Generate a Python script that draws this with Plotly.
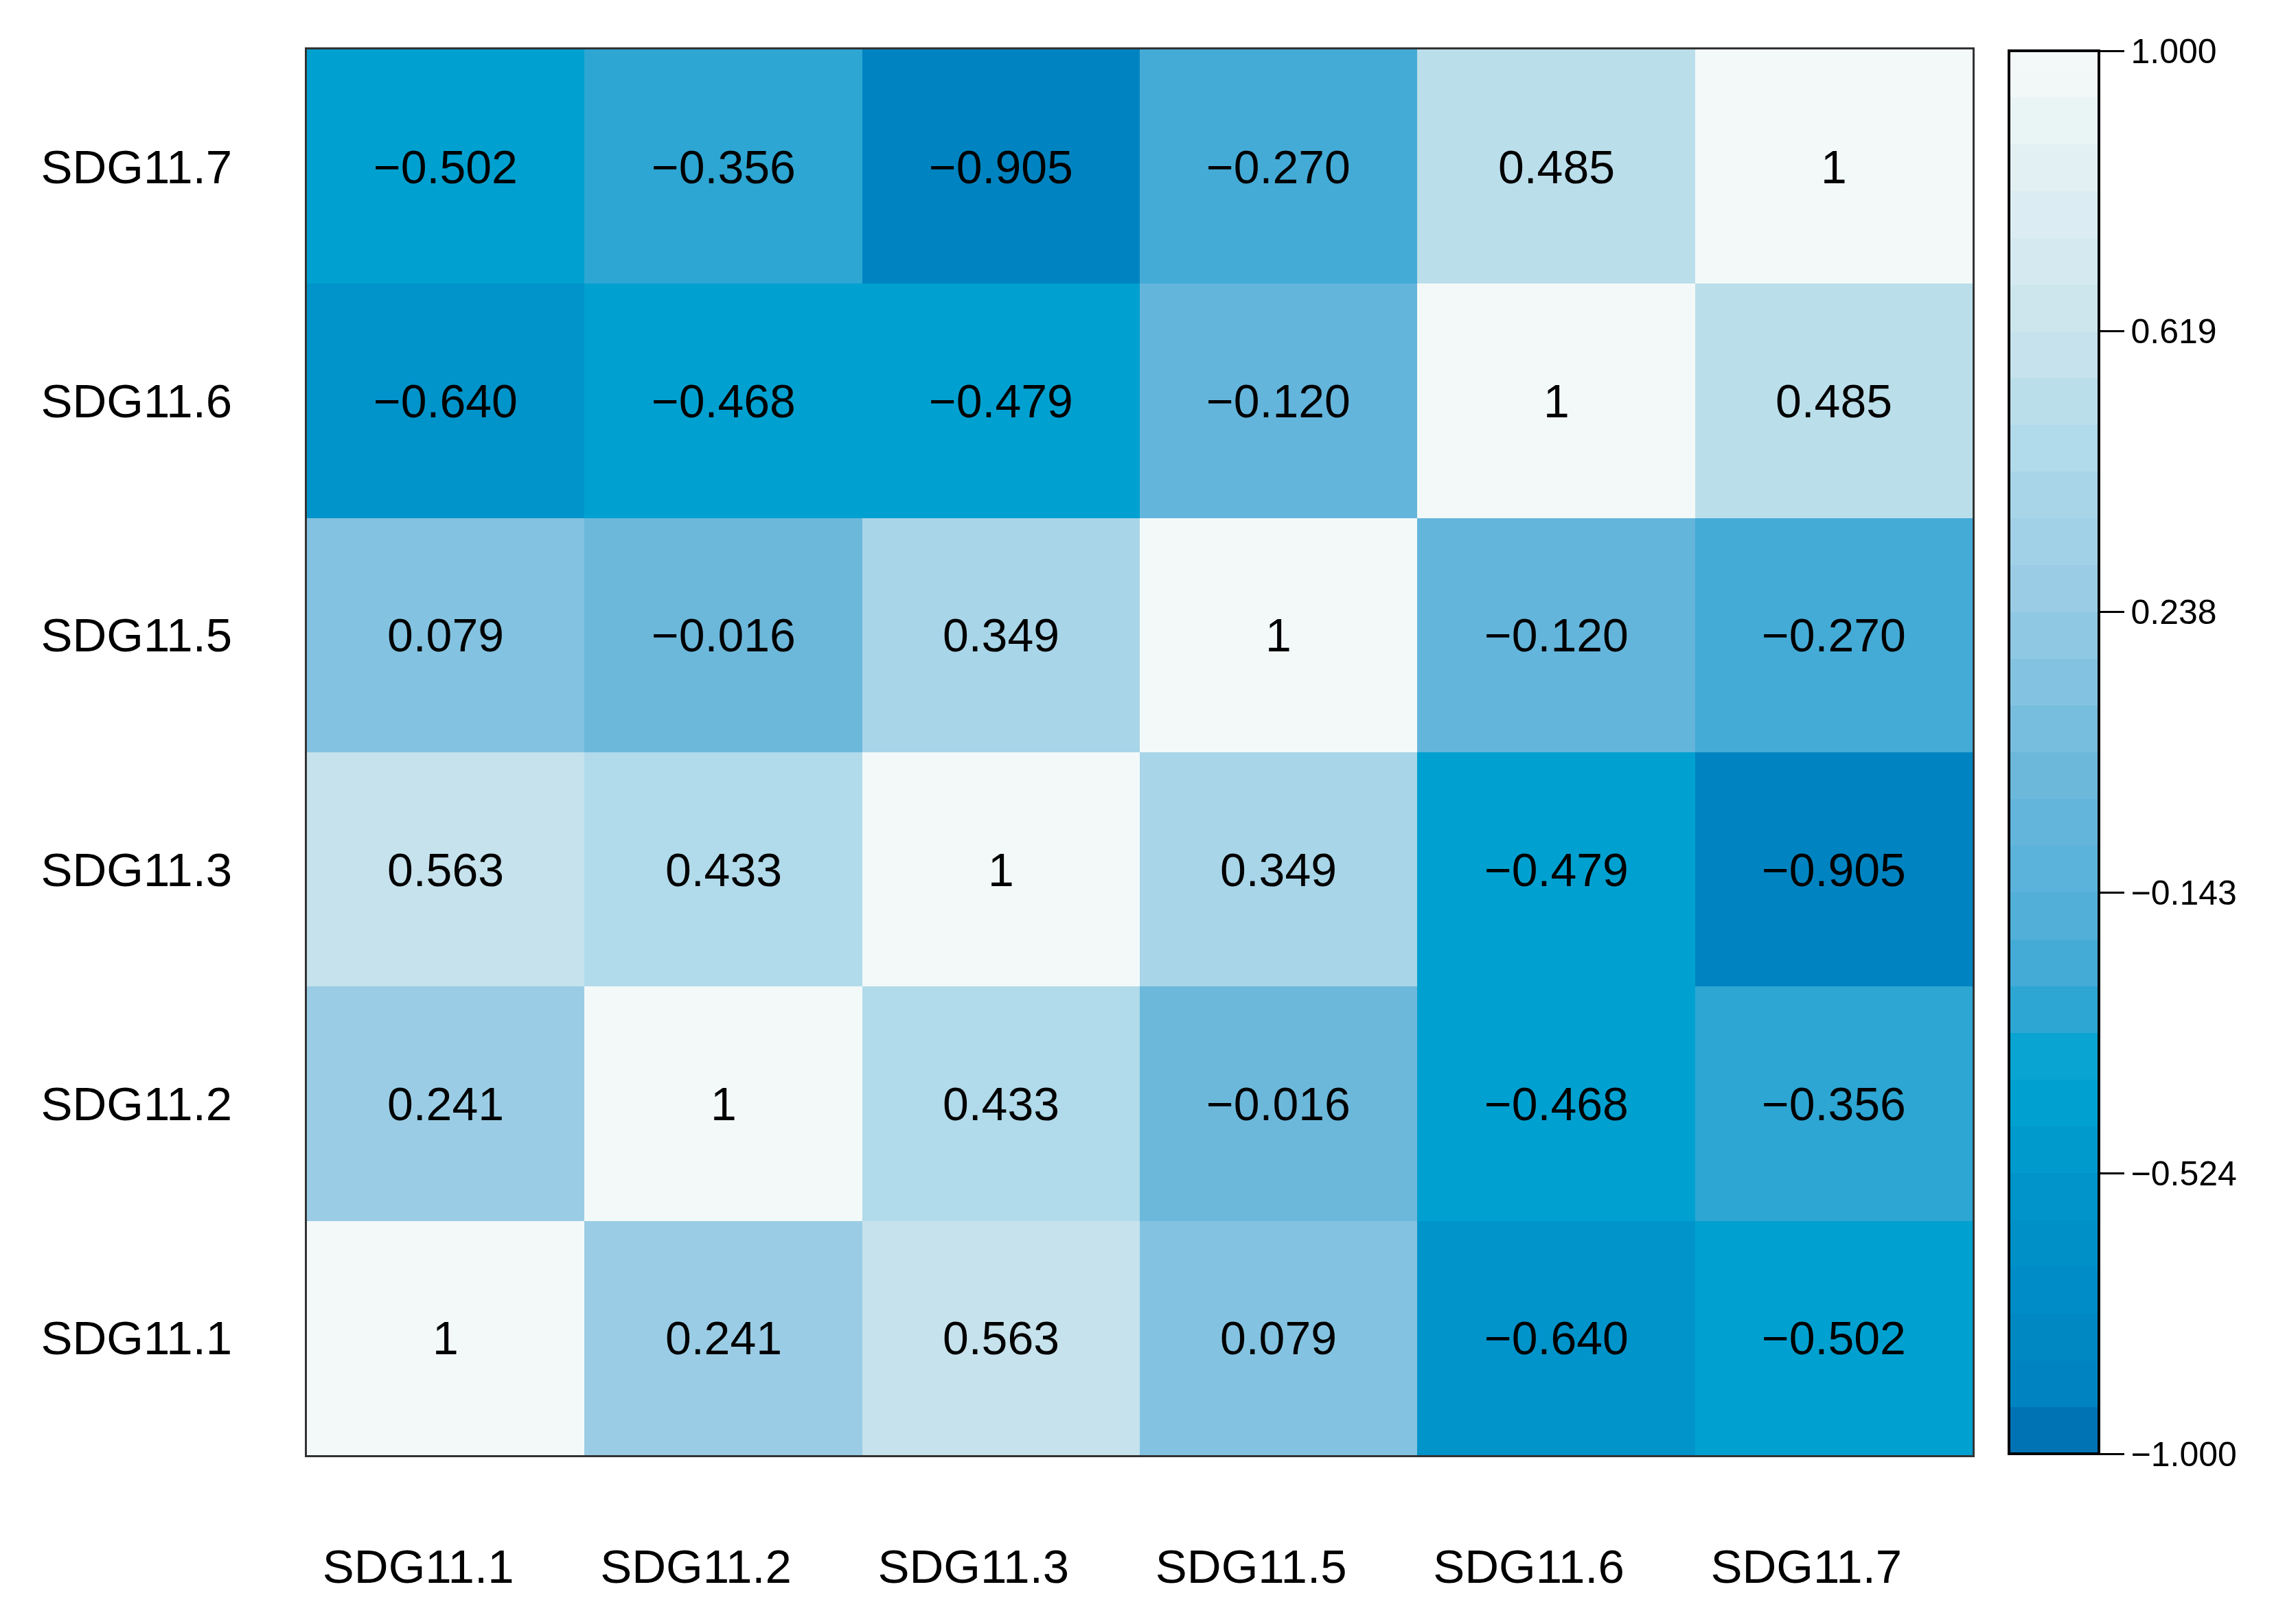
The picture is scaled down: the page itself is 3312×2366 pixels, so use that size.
import plotly.graph_objects as go

# ---- data ----
x_labels = ["SDG11.1", "SDG11.2", "SDG11.3", "SDG11.5", "SDG11.6", "SDG11.7"]
y_labels = ["SDG11.1", "SDG11.2", "SDG11.3", "SDG11.5", "SDG11.6", "SDG11.7"]

# rows bottom -> top (y_labels order), columns follow x_labels
row_sdg11_1 = [1.0, 0.241, 0.563, 0.079, -0.640, -0.502]
row_sdg11_2 = [0.241, 1.0, 0.433, -0.016, -0.468, -0.356]
row_sdg11_3 = [0.563, 0.433, 1.0, 0.349, -0.479, -0.905]
row_sdg11_5 = [0.079, -0.016, 0.349, 1.0, -0.120, -0.270]
row_sdg11_6 = [-0.640, -0.468, -0.479, -0.120, 1.0, 0.485]
row_sdg11_7 = [-0.502, -0.356, -0.905, -0.270, 0.485, 1.0]

cb_tick_vals = [1.0, 0.6, 0.2, -0.2, -0.6, -1.0]
cb_tick_text = ["1.000", "0.619", "0.238", "\u22120.143", "\u22120.524", "\u22121.000"]

z = [row_sdg11_1, row_sdg11_2, row_sdg11_3, row_sdg11_5, row_sdg11_6, row_sdg11_7]


def fmt(v):
    if v == 1.0:
        return "1"
    return f"{v:.3f}".replace("-", "\u2212")


text = [[fmt(v) for v in row] for row in z]

# ---- colour scale (stepped, like the reference legend) ----
anchors = [
    (-1.0, "#006AAF"),
    (-0.9, "#0084C1"),
    (-0.64, "#0093CA"),
    (-0.5, "#00A1D0"),
    (-0.45, "#00A3D1"),
    (-0.356, "#33A6D3"),
    (-0.27, "#4DAED7"),
    (-0.12, "#62B4DB"),
    (0.0, "#70B9DB"),
    (0.08, "#80C2E0"),
    (0.24, "#9BCDE5"),
    (0.35, "#A6D4E8"),
    (0.46, "#B5DCEA"),
    (0.56, "#C5E2EC"),
    (1.0, "#F3F9F8"),
]


def hex2rgb(h):
    h = h.lstrip("#")
    return tuple(int(h[i:i + 2], 16) for i in (0, 2, 4))


def color_at(v):
    for (v0, c0), (v1, c1) in zip(anchors[:-1], anchors[1:]):
        if v0 <= v <= v1:
            t = (v - v0) / (v1 - v0) if v1 > v0 else 0
            a, b = hex2rgb(c0), hex2rgb(c1)
            r = [round(a[k] + (b[k] - a[k]) * t) for k in range(3)]
            return f"rgb({r[0]},{r[1]},{r[2]})"
    return anchors[-1][1]


n_bands = 30
colorscale = []
for i in range(n_bands):
    center = -1 + (i + 0.5) * 2 / n_bands
    col = color_at(center)
    colorscale.append([i / n_bands, col])
    colorscale.append([(i + 1) / n_bands, col])
# make sure value 1.0 uses the lightest colour
colorscale[-1][1] = anchors[-1][1]
colorscale[-2][1] = color_at(0.985)

FONT = "Liberation Sans, Arial, sans-serif"

fig = go.Figure(
    go.Heatmap(
        z=z,
        x=x_labels,
        y=y_labels,
        text=text,
        texttemplate="%{text}",
        textfont=dict(family=FONT, size=68, color="black"),
        colorscale=colorscale,
        zmin=-1,
        zmax=1,
        xgap=0,
        ygap=0,
        hoverinfo="skip",
        colorbar=dict(
            x=1.0219,
            xanchor="left",
            xref="paper",
            y=0.5,
            yanchor="middle",
            len=0.998,
            lenmode="fraction",
            thickness=131,
            thicknessmode="pixels",
            outlinewidth=4,
            outlinecolor="black",
            tickmode="array",
            tickvals=cb_tick_vals,
            ticktext=cb_tick_text,
            ticks="outside",
            ticklen=35,
            tickwidth=3,
            tickcolor="black",
            tickfont=dict(family=FONT, size=50, color="black"),
            xpad=0,
            ypad=0,
        ),
    )
)

fig.update_layout(
    width=3312,
    height=2366,
    margin=dict(l=439, r=447, t=64, b=254),
    paper_bgcolor="white",
    plot_bgcolor="white",
    font=dict(family=FONT, color="black"),
)

fig.update_xaxes(
    type="category",
    showline=True,
    linecolor="#333333",
    linewidth=3,
    mirror=True,
    showgrid=False,
    zeroline=False,
    ticks="",
    tickfont=dict(family=FONT, size=69, color="black"),
    ticklabelstandoff=100,
    ticklabelshift=-40,
)
fig.update_yaxes(
    type="category",
    showline=True,
    linecolor="#333333",
    linewidth=3,
    mirror=True,
    showgrid=False,
    zeroline=False,
    ticks="",
    tickfont=dict(family=FONT, size=69, color="black"),
    ticklabelstandoff=92,
)

fig.write_html("out.html")
